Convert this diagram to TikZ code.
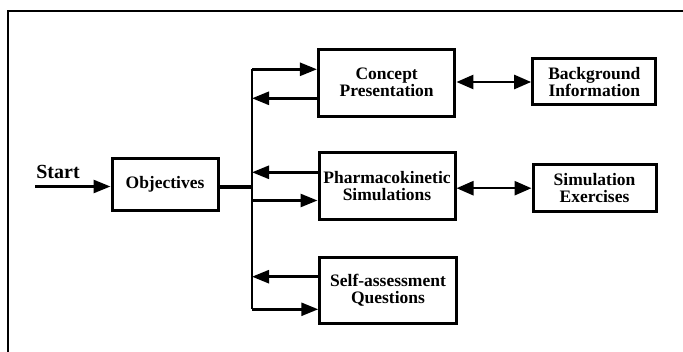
\documentclass[tikz,border=0pt]{standalone}
\usepackage{fontspec}
\setmainfont{Liberation Serif}
\usetikzlibrary{arrows.meta}
\begin{document}
\begin{tikzpicture}[x=1pt,y=-1pt,
  box/.style={draw, line width=3pt, inner sep=0pt, align=center,
    font=\bfseries\fontsize{17.5}{17}\selectfont},
  arr/.style={line width=2.6pt, -{Triangle[length=17pt,width=13pt]}},
  darr/.style={line width=2.6pt, {Triangle[length=17pt,width=14pt]}-{Triangle[length=17pt,width=14pt]}},
  trunkline/.style={line width=2.8pt},
  thickline/.style={line width=4pt}]
\useasboundingbox (0,0) rectangle (683,352);
% frame
\draw[line width=2.5pt] (8,352) -- (8,11) -- (683,11);
% boxes
\node[box, minimum width=106pt, minimum height=52pt] (obj) at (165,184.5) {Objectives};
\node[box, minimum width=136.5pt, minimum height=66.7pt] (concept) at (386.7,82.7) {Concept\\Presentation};
\node[box, minimum width=136pt, minimum height=66.6pt] (pharm) at (387,186) {Pharmacokinetic\\Simulations};
\node[box, minimum width=136.5pt, minimum height=66pt] (self) at (388,290.3) {Self-assessment\\Questions};
\node[box, minimum width=123.3pt, minimum height=46pt] (bg) at (594.3,82) {Background\\Information};
\node[box, minimum width=123pt, minimum height=46.5pt] (simx) at (594.5,188.2) {Simulation\\Exercises};
% start
\node[font=\bfseries\fontsize{20}{20}\selectfont, inner sep=0pt] (startlbl) at (58,172) {Start};
\coordinate (startpt) at (35,186.5);
\draw[arr] (startpt) -- (startpt -| obj.west);
% trunk
\coordinate (ttop) at (252,69.3);
\coordinate (tbot) at (252,309.3);
\coordinate (tmid) at (252,186.7);
\draw[trunkline] (ttop) -- (tbot);
\draw[thickline] (tmid -| obj.east) -- (tmid);
% branch arrows
\coordinate (c1) at (252,69.3);
\coordinate (c2) at (252,98.3);
\coordinate (p1) at (252,172.3);
\coordinate (p2) at (252,200.5);
\coordinate (s1) at (252,276.7);
\coordinate (s2) at (252,309.3);
\draw[arr] (c1) -- (c1 -| concept.west);
\draw[arr] (c2 -| concept.west) -- (c2);
\draw[arr] (p1 -| pharm.west) -- (p1);
\draw[arr] (p2) -- (p2 -| pharm.west);
\draw[arr] (s1 -| self.west) -- (s1);
\draw[arr] (s2) -- (s2 -| self.west);
% double arrows
\draw[darr] (concept.east |- bg.west) -- (bg.west);
\draw[darr] (pharm.east |- simx.west) -- (simx.west);
\end{tikzpicture}
\end{document}
